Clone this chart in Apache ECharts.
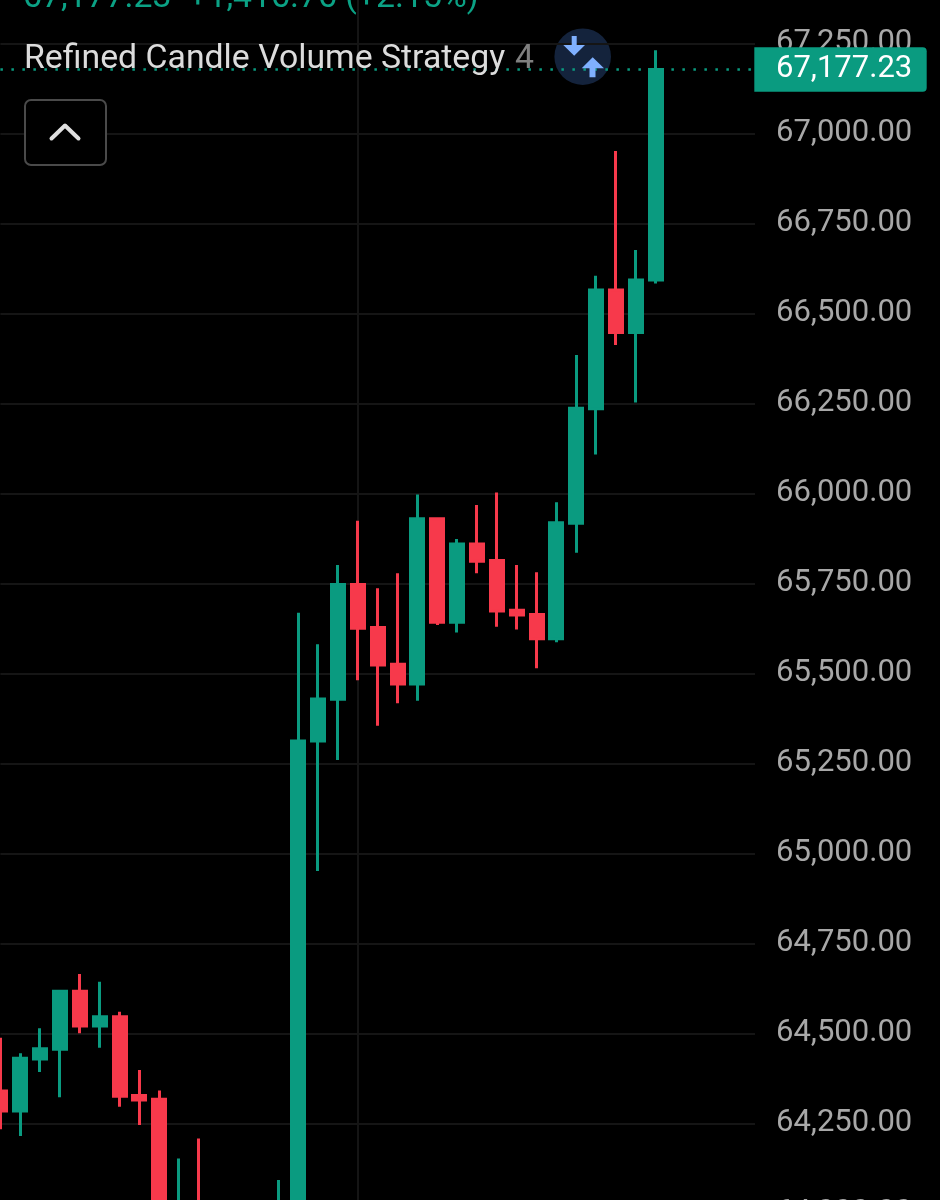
<!DOCTYPE html>
<html>
<head>
<meta charset="utf-8">
<style>html,body{margin:0;padding:0;background:#000;overflow:hidden}#c{width:940px;height:1200px}</style>
<script src="https://cdn.jsdelivr.net/npm/echarts@6/dist/echarts.min.js"></script>
</head>
<body>
<div id="c"></div>
<script>
const opens  = [64339.7,64284,64428.6,64455.6,64616.7,64520,64546,64327,64317,63850,63995,63900,63860,63900,63900,63980,65312,65428,65747,65627,65525,65470,65929,65642,65859,65813,65675,65663,65596,65917,66235,66565,66447,66592.5];
const closes = [64284.2,64430.6,64457.2,64616.7,64520.3,64546,64325,64315,63950,63990,63900,63860,63900,63940,63980,65312,65428.6,65747,65625,65523,65470,65929,65642,65859,65811,65673,65662,65596,65918,66236,66565,66447,66592.5,67177.23];
const lows   = [64233.3,64214.7,64392.5,64322.2,64500,64460,64296,64245,63900,63800,63850,63820,63800,63860,63870,63950,64951,65259,65481,65354,65417,65424,65634,65613,65778,65629,65622,65514,65586,65835,66108,66412,66252,66583];
const highs  = [64487.8,64444.4,64513.9,64618,64664.7,64643,64560,64398,64341,64152,64208,63960,63950,63980,64092.5,65668,65581,65801,65924,65736,65778,65997,65929,65873,65967.5,66002,65801,65781,65975,66384,66604,66951,66676,67231];
const trailingSlots = ['','','','',''];
const categories = opens.map((_, i) => String(i)).concat(trailingSlots.map((_, i) => 'x' + i));
const tickMin = 64000, tickMax = 67500, tickStep = 250;
const lastPrice = 67177.23;
const headerText = '67,177.23  +1,416.76 (+2.15%)';
const titleText = 'Refined Candle Volume Strategy';
const titleCount = '4';
const markedCategory = '18';

const UP = '#0a9b80', DOWN = '#f7394b', FONT = 'Roboto';
const fmt = v => v.toLocaleString('en-US', {minimumFractionDigits: 2, maximumFractionDigits: 2});
const candles = opens.map((o, i) => [o, closes[i], lows[i], highs[i]]);

const chart = echarts.init(document.getElementById('c'), null, {renderer: 'canvas', width: 940, height: 1200});
chart.setOption({
  backgroundColor: '#000',
  animation: false,
  grid: {left: 0.4, width: 754.6, top: -46.7, height: 1260, containLabel: false, outerBoundsMode: 'none'},
  xAxis: {
    type: 'category', data: categories, boundaryGap: false,
    axisLine: {show: false}, axisTick: {show: false}, axisLabel: {show: false}, splitLine: {show: false}
  },
  yAxis: {
    type: 'value', position: 'right', min: tickMin, max: tickMax, interval: tickStep,
    axisLine: {show: false}, axisTick: {show: false},
    splitLine: {show: true, lineStyle: {color: '#151515', width: 2}},
    axisLabel: {
      show: true, inside: false, margin: 21, align: 'left', verticalAlign: 'middle',
      padding: [0, 0, 7, 0], color: '#a8a8a8', fontFamily: FONT, fontSize: 31,
      showMinLabel: true, showMaxLabel: true, formatter: fmt
    }
  },
  series: [{
    type: 'candlestick', data: candles, barWidth: 13.5, clip: true, z: 3,
    itemStyle: {color: UP, color0: DOWN, borderColor: UP, borderColor0: DOWN, borderWidth: 3},
    markLine: {
      silent: true, symbol: 'none', animation: false, label: {show: false}, z: 1,
      data: [
        {yAxis: lastPrice, lineStyle: {color: UP, type: [2.5, 8.5], width: 2.5}},
        [{xAxis: markedCategory, yAxis: tickMin, lineStyle: {color: '#151515', type: 'solid', width: 2}},
         {xAxis: markedCategory, yAxis: tickMax}]
      ]
    }
  }],
  graphic: [
    {type: 'circle', z: 0, shape: {cx: 582.7, cy: 56.7, r: 28.3}, style: {fill: '#14233c'}},
    {type: 'polygon', z: 20, shape: {points: [[571.7,36],[576.7,36],[576.7,45],[585,45],[574.2,55.7],[563.3,45],[571.7,45]]}, style: {fill: '#7fb0ff'}},
    {type: 'polygon', z: 20, shape: {points: [[592.7,57.3],[604,68.3],[595.5,68.3],[595.5,77.3],[589.5,77.3],[589.5,68.3],[581.7,68.3]]}, style: {fill: '#7fb0ff'}},
    {type: 'rect', z: 20, shape: {x: 754.3, y: 47.3, width: 172.4, height: 44.4, r: [0,4,4,0]}, style: {fill: UP}},
    {type: 'text', z: 21, style: {x: 776, y: 69, text: fmt(lastPrice), fontFamily: FONT, fontSize: 31, fill: '#fff', verticalAlign: 'middle'}},
    {type: 'text', z: 21, style: {x: 23, y: -1.5, text: headerText, fontFamily: FONT, fontSize: 33.8, fill: '#0ba285', verticalAlign: 'middle'}},
    {type: 'text', z: 21, style: {x: 24, y: 60, text: titleText, fontFamily: FONT, fontSize: 33.8, fill: '#dcdcdc', verticalAlign: 'middle'}},
    {type: 'text', z: 21, style: {x: 515, y: 60, text: titleCount, fontFamily: FONT, fontSize: 33.8, fill: '#808080', verticalAlign: 'middle'}},
    {type: 'rect', z: 20, shape: {x: 25, y: 100, width: 81, height: 65, r: 6}, style: {fill: '#000', stroke: '#4a4a4a', lineWidth: 2}},
    {type: 'polyline', z: 21, shape: {points: [[51.5,138.5],[65,125.5],[78.5,138.5]]}, style: {fill: 'none', stroke: '#e0e0e0', lineWidth: 4, lineCap: 'round', lineJoin: 'round'}}
  ]
});
</script>
</body>
</html>
